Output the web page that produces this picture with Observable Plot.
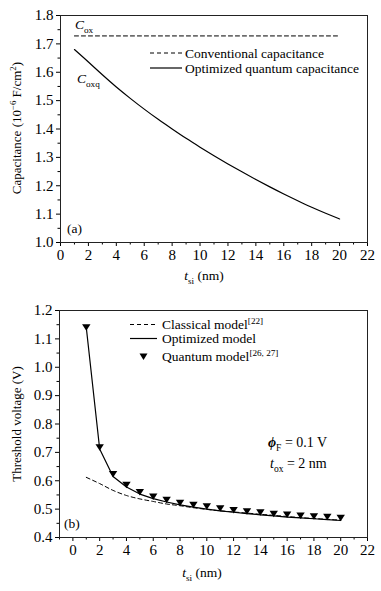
<!DOCTYPE html>
<html><head><meta charset="utf-8">
<script src="https://cdn.jsdelivr.net/npm/d3@7"></script>
<script src="https://cdn.jsdelivr.net/npm/@observablehq/plot@0.6"></script>
<style>
body{margin:0;background:#fff}
#c svg{display:block}
</style></head><body><div id="c"></div>
<script>
// ---- data ----
const tsi = [1,2,3,4,5,6,7,8,9,10,11,12,13,14,15,16,17,18,19,20];
const coxConventional = [1.728,1.728,1.728,1.728,1.728,1.728,1.728,1.728,1.728,1.728,1.728,1.728,1.728,1.728,1.728,1.728,1.728,1.728,1.728,1.728];
const coxQuantum = [1.680,1.636,1.591,1.548,1.508,1.470,1.434,1.400,1.367,1.336,1.306,1.277,1.249,1.222,1.196,1.171,1.147,1.124,1.103,1.083];
const vthClassical = [0.612,0.590,0.566,0.548,0.536,0.527,0.518,0.512,0.505,0.499,0.494,0.490,0.486,0.482,0.478,0.474,0.470,0.467,0.464,0.461];
const vthOptimized = [1.140,0.712,0.615,0.578,0.553,0.537,0.525,0.515,0.507,0.500,0.494,0.489,0.484,0.480,0.476,0.472,0.469,0.466,0.463,0.460];
const vthQuantum = [1.141,0.718,0.624,0.586,0.561,0.545,0.533,0.523,0.516,0.510,0.503,0.497,0.493,0.489,0.484,0.481,0.478,0.475,0.473,0.470];
const xTicksA = [0,2,4,6,8,10,12,14,16,18,20,22];
const xMinorA = [1,3,5,7,9,11,13,15,17,19,21];
const yTicksA = [1.0,1.1,1.2,1.3,1.4,1.5,1.6,1.7,1.8];
const yMinorA = [1.05,1.15,1.25,1.35,1.45,1.55,1.65,1.75];
const xTicksB = [0,2,4,6,8,10,12,14,16,18,20,22];
const xMinorB = [-1,1,3,5,7,9,11,13,15,17,19,21];
const yTicksB = [0.4,0.5,0.6,0.7,0.8,0.9,1.0,1.1,1.2];
const yMinorB = [0.45,0.55,0.65,0.75,0.85,0.95,1.05,1.15];

const font = "'Liberation Serif','Times New Roman',serif";
const rowsA = tsi.map((t,i)=>({t, conv: coxConventional[i], q: coxQuantum[i]}));
const rowsB = tsi.map((t,i)=>({t, cl: vthClassical[i], op: vthOptimized[i], qm: vthQuantum[i]}));

const triDown = {draw(ctx, size){ const r = Math.sqrt(size/Math.PI); ctx.moveTo(-r,-r*0.7); ctx.lineTo(r,-r*0.7); ctx.lineTo(0,r*0.85); ctx.closePath(); }};

function axes(xt, xm, yt, ym){
  return [
    Plot.axisX({ticks: xt, tickSize: 4, tickPadding: 3, tickFormat: d=>String(d), label: null, fontSize: 15}),
    Plot.axisX({ticks: xm, tickSize: 2.5, tickFormat: ()=>"", label: null}),
    Plot.axisY({ticks: yt, tickSize: 4, tickPadding: 3, tickFormat: d3.format(".1f"), label: null, fontSize: 15}),
    Plot.axisY({ticks: ym, tickSize: 2.5, tickFormat: ()=>"", label: null}),
    Plot.frame({stroke: "#222", strokeWidth: 1})
  ];
}

const chartA = Plot.plot({
  width: 381, height: 295,
  marginLeft: 60, marginRight: 14, marginTop: 15, marginBottom: 53,
  style: {fontFamily: font, fontSize: "15px", color: "#000", background: "#fff"},
  x: {domain: [0, 22]},
  y: {domain: [1.0, 1.8]},
  marks: [
    ...axes(xTicksA, xMinorA, yTicksA, yMinorA),
    Plot.line(rowsA, {x: "t", y: "conv", stroke: "#000", strokeWidth: 1, strokeDasharray: "4,3"}),
    Plot.line(rowsA, {x: "t", y: "q", stroke: "#000", strokeWidth: 1.2, curve: "natural"})
  ]
});

const chartB = Plot.plot({
  width: 381, height: 296,
  marginLeft: 59, marginRight: 14, marginTop: 15, marginBottom: 54,
  style: {fontFamily: font, fontSize: "15px", color: "#000", background: "#fff"},
  x: {domain: [-1, 22]},
  y: {domain: [0.4, 1.2]},
  marks: [
    ...axes(xTicksB, xMinorB, yTicksB, yMinorB),
    Plot.line(rowsB, {x: "t", y: "cl", stroke: "#000", strokeWidth: 1, strokeDasharray: "4,3", curve: "monotone-x"}),
    Plot.line(rowsB, {x: "t", y: "op", stroke: "#000", strokeWidth: 1.2}),
    Plot.dot(rowsB, {x: "t", y: "qm", symbol: triDown, r: 4.2, fill: "#000", stroke: "none"})
  ]
});

const c = document.getElementById("c");
c.append(chartA, chartB);

function rich(svg, x, y, parts, {anchor="start", size=13.5, rotate=0}={}){
  const t = d3.select(svg).append("text")
    .attr("x", x).attr("y", y).attr("text-anchor", anchor)
    .attr("font-size", size).attr("font-family", font).attr("fill", "#000");
  if (rotate) t.attr("transform", `rotate(${rotate},${x},${y})`);
  let shift = 0;
  for (const p of parts){
    const s = t.append("tspan").text(p.t);
    const target = p.sub ? size*0.3 : p.sup ? -size*0.4 : 0;
    if (target !== shift){ s.attr("dy", target - shift); shift = target; }
    if (p.sub || p.sup) s.attr("font-size", size*0.68);
    if (p.i) s.attr("font-style", "italic");
    if (p.b) s.attr("font-weight", "bold");
  }
  return t;
}
function seg(svg, x1, x2, y, dash){
  const l = d3.select(svg).append("line").attr("x1", x1).attr("x2", x2).attr("y1", y).attr("y2", y)
    .attr("stroke", "#000").attr("stroke-width", dash ? 1 : 1.2);
  if (dash) l.attr("stroke-dasharray", "4,3");
}

// chart A annotations
rich(chartA, 75, 29, [{t:"C", i:true},{t:"ox", sub:true}]);
rich(chartA, 77, 83, [{t:"C", i:true},{t:"oxq", sub:true}]);
rich(chartA, 67, 233, [{t:"(a)"}]);
seg(chartA, 150, 182, 53, true);
rich(chartA, 185, 57.5, [{t:"Conventional capacitance"}]);
seg(chartA, 150, 182, 68, false);
rich(chartA, 185, 72.5, [{t:"Optimized quantum capacitance"}]);
rich(chartA, 204, 280, [{t:"t", i:true},{t:"si", sub:true},{t:" (nm)"}], {anchor:"middle"});
rich(chartA, 21, 128, [{t:"Capacitance (10"},{t:"−6", sup:true},{t:" F/cm"},{t:"2", sup:true},{t:")"}], {anchor:"middle", rotate:-90, size:13});

// chart B annotations
seg(chartB, 130, 157, 29.5, true);
rich(chartB, 162, 34, [{t:"Classical model"},{t:"[22]", sup:true}]);
seg(chartB, 130, 157, 43.5, false);
rich(chartB, 162, 48, [{t:"Optimized model"}]);
d3.select(chartB).append("path").attr("d", "M139.5,58.5L147.5,58.5L143.5,65Z").attr("fill", "#000");
rich(chartB, 162, 66, [{t:"Quantum model"},{t:"[26, 27]", sup:true}]);
rich(chartB, 268, 152, [{t:"ϕ", i:true, b:true},{t:"F", sub:true},{t:" = 0.1 V"}], {size:14});
rich(chartB, 270, 173, [{t:"t", i:true},{t:"ox", sub:true},{t:" = 2 nm"}], {size:14});
rich(chartB, 64, 233, [{t:"(b)"}]);
rich(chartB, 202, 282, [{t:"t", i:true},{t:"si", sub:true},{t:" (nm)"}], {anchor:"middle"});
rich(chartB, 21, 129, [{t:"Threshold voltage (V)"}], {anchor:"middle", rotate:-90, size:13});
</script></body></html>
